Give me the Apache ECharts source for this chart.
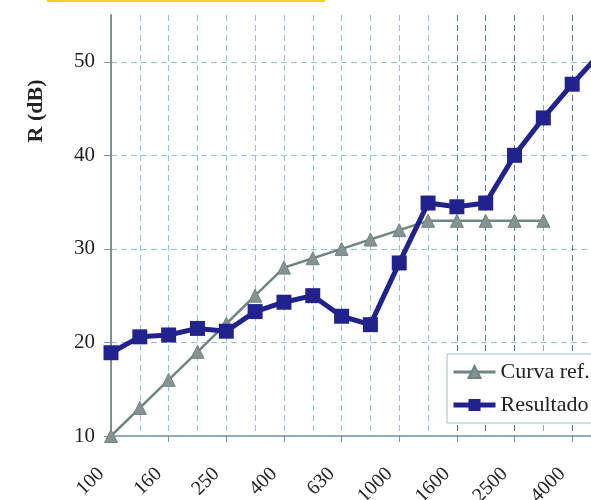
<!DOCTYPE html>
<html>
<head>
<meta charset="utf-8">
<script src="https://cdn.jsdelivr.net/npm/echarts@6/dist/echarts.min.js"></script>
<style>
  html, body { margin: 0; padding: 0; background: #fff; }
  #chart { width: 591px; height: 500px; }
</style>
</head>
<body>
<div id="chart"></div>
<script>
// third-octave bands (Hz)
const freqs = ['100', '125', '160', '200', '250', '315', '400', '500', '630', '800',
  '1000', '1250', '1600', '2000', '2500', '3150', '4000', '5000'];
// shifted reference curve
const curvaRef = [10, 13, 16, 19, 22, 25, 28, 29, 30, 31, 32, 33, 33, 33, 33, 33, null, null];
// measured result
const resultado = [18.9, 20.6, 20.8, 21.5, 21.2, 23.3, 24.3, 25.0, 22.8, 21.9,
  28.5, 34.9, 34.5, 34.9, 40.0, 44.0, 47.6, 51.0];

const serif = 'Liberation Serif';
const light = '#8cc4e2';
const dark = '#4d7d90';
// scan gave the right-hand gridlines a darker tone
const vColors = [light, light, light, light, light, light, light, light, light, light,
  light, light, dark, dark, dark, '#79b2cc', dark, dark];

const chart = echarts.init(document.getElementById('chart'));

chart.setOption({
  animation: false,
  backgroundColor: '#fff',
  grid: {
    left: 111, top: 15, width: 490, height: 421,
    containLabel: false,
    outerBoundsMode: 'none'
  },
  graphic: [{
    type: 'rect',
    shape: { x: 47, y: 0, width: 278, height: 2 },
    style: { fill: '#f2d21b' }
  }],
  legend: {
    left: 447,
    top: 354,
    orient: 'vertical',
    backgroundColor: '#fff',
    borderColor: '#9bbfd4',
    borderWidth: 1,
    borderRadius: 0,
    padding: [6, 40, 6, 4],
    itemGap: 9,
    itemWidth: 42,
    itemHeight: 15,
    textStyle: { fontFamily: serif, fontSize: 22, color: '#222', lineHeight: 24 },
    data: [
      { name: 'Curva ref.', lineStyle: { width: 3 } },
      { name: 'Resultado', lineStyle: { width: 5 } }
    ]
  },
  xAxis: {
    type: 'category',
    data: freqs,
    boundaryGap: false,
    axisLine: { lineStyle: { color: '#6f95aa', width: 1.5 } },
    axisTick: { show: true, length: 6, lineStyle: { color: '#6f95aa' } },
    axisLabel: {
      interval: 1,
      rotate: 45,
      margin: 25,
      padding: [0, 14, 0, 0],
      fontFamily: serif,
      fontSize: 20,
      color: '#222'
    },
    splitLine: {
      show: true,
      interval: 0,
      lineStyle: { color: vColors, type: [6, 4], width: 1 }
    }
  },
  yAxis: {
    type: 'value',
    min: 10,
    max: 55,
    interval: 10,
    name: 'R (dB)',
    nameLocation: 'middle',
    nameGap: 64,
    nameTextStyle: {
      fontFamily: serif,
      fontSize: 22,
      fontWeight: 'bold',
      color: '#222',
      padding: [0, 0, 0, 229]
    },
    axisLine: { show: true, lineStyle: { color: '#7f8f99', width: 2 } },
    axisTick: { show: true, length: 7, lineStyle: { color: '#7f8f99' } },
    axisLabel: {
      showMaxLabel: false,
      margin: 16,
      fontFamily: serif,
      fontSize: 21,
      color: '#222'
    },
    splitLine: {
      show: true,
      showMinLine: false,
      showMaxLine: false,
      lineStyle: { color: light, type: [6, 4], width: 1 }
    }
  },
  series: [
    {
      name: 'Curva ref.',
      type: 'line',
      data: curvaRef,
      symbol: 'triangle',
      symbolSize: 13,
      lineStyle: { color: '#6e8582', width: 2.5 },
      itemStyle: { color: '#879292', borderColor: '#6e8582', borderWidth: 1 }
    },
    {
      name: 'Resultado',
      type: 'line',
      data: resultado,
      symbol: 'rect',
      symbolSize: 15,
      lineStyle: { color: '#22228c', width: 5 },
      itemStyle: { color: '#22228c' }
    }
  ]
});
</script>
</body>
</html>
